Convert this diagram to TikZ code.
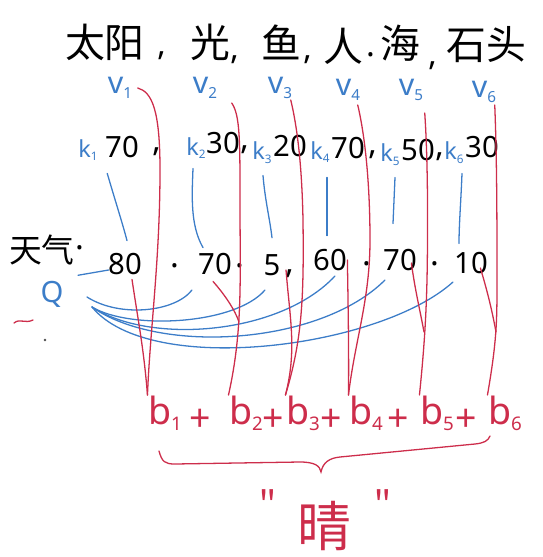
\documentclass[tikz,border=0pt]{standalone}
\usepackage{fontspec}
\setmainfont{Noto Sans}
\newfontfamily\cjk{Noto Sans CJK SC}
\usetikzlibrary{calc}
\definecolor{penblue}{RGB}{60,125,200}
\definecolor{penred}{RGB}{205,45,75}
\newcommand{\lowidx}[1]{\raisebox{-0.3ex}{\scalebox{0.5}{#1}}}

\begin{document}
\begin{tikzpicture}[x=0.3mm, y=-0.3mm, line width=1.1pt, line cap=round,
  word/.style={inner sep=0pt, font=\cjk\fontsize{34}{34}\selectfont},
  sepmark/.style={inner sep=0pt, font=\fontsize{28}{28}\selectfont},
  vlab/.style={inner sep=0pt, text=penblue, font=\fontsize{26}{26}\selectfont},
  klab/.style={inner sep=0pt, text=penblue, font=\fontsize{20}{20}\selectfont},
  num/.style={inner sep=0pt, font=\fontsize{25}{25}\selectfont},
  blab/.style={inner sep=0pt, text=penred, font=\fontsize{32}{32}\selectfont},
  redline/.style={penred},
  blueline/.style={penblue}]
  \useasboundingbox (0,0) rectangle (543,557);
  % 词: 太阳, 光, 鱼, 人, 海, 石头
  \node[word] (t1) at (105,42) {太阳};
  \node[word] (t2) at (210,42) {光};
  \node[word] (t3) at (281,42) {鱼};
  \node[word] (t4) at (343,46) {人};
  \node[word] (t5) at (400,43) {海};
  \node[word] (t6) at (486,45) {石头};
  \node[sepmark] at (162,56) {,};
  \node[sepmark] at (235,60) {,};
  \node[sepmark] at (308,60) {,};
  \node[sepmark] at (371,55) {.};
  \node[sepmark] at (433,66) {,};
  % 词向量 v_i
  \node[vlab] (v1) at (120,88) {v\lowidx{1}};
  \node[vlab] (v2) at (205,88) {v\lowidx{2}};
  \node[vlab] (v3) at (280,88) {v\lowidx{3}};
  \node[vlab] (v4) at (348,90) {v\lowidx{4}};
  \node[vlab] (v5) at (411,90) {v\lowidx{5}};
  \node[vlab] (v6) at (484,92) {v\lowidx{6}};
  % 键 k_i 与分值
  \node[klab] (k1) at (88,150) {k\lowidx{1}};
  \node[klab] (k2) at (196,148) {k\lowidx{2}};
  \node[klab] (k3) at (262,153) {k\lowidx{3}};
  \node[klab] (k4) at (320,152) {k\lowidx{4}};
  \node[klab] (k5) at (390,155) {k\lowidx{5}};
  \node[klab] (k6) at (454,153) {k\lowidx{6}};
  \node[num] (kv1) at (122,147) {70};
  \node[num] (kv2) at (223,143) {30};
  \node[num] (kv3) at (290,146) {20};
  \node[num] (kv4) at (348,148) {70};
  \node[num] (kv5) at (418,150) {50};
  \node[num] (kv6) at (482,147) {30};
  \node[sepmark] at (157,152) {,};
  \node[sepmark] at (245,150) {,};
  \node[sepmark] at (373,155) {,};
  \node[sepmark] at (440,157) {,};
  % 天气 与 Q
  \node[inner sep=0pt, font=\cjk\fontsize{28}{28}\selectfont] (wx) at (42,250) {天气};
  \node[sepmark] at (80,248) {.};
  \node[num, text=penblue] (Q) at (52,294) {Q};
  \node[num] (w1) at (125,264) {80};
  \node[num] (w2) at (215,264) {70};
  \node[num] (w3) at (272,265) {5};
  \node[num] (w4) at (330,260) {60};
  \node[num] (w5) at (400,260) {70};
  \node[num] (w6) at (471,263) {10};
  \node[sepmark] at (175,266) {.};
  \node[sepmark] at (240,266) {.};
  \node[sepmark] at (290,274) {,};
  \node[sepmark] at (367,264) {.};
  \node[sepmark] at (435,264) {.};
  \draw[penred] (14,323) .. controls (20,318) and (25,324) .. (33,320);
  \fill[black!70] (45,340) circle (1.3);
  % k_i -> 分值
  \draw[blueline] ($(k1.south east)+(9,12)$) .. controls (115,200) and (123,225) .. ($(w1.north)+(2,-12)$);
  \draw[blueline] ($(k2.south)+(-3,9)$) .. controls (192,195) and (190,225) .. ($(w2.north)+(-12,-5)$);
  \draw[blueline] ($(k3.south)+(1,11)$) .. controls (265,200) and (270,220) .. ($(w3.north)+(0,-16)$);
  \draw[blueline] ($(k4.south)+(7,14)$) -- ($(w4.north)+(-3,-13)$);
  \draw[blueline] ($(k5.south)+(5,11)$) -- ($(w5.north)+(-7,-25)$);
  \draw[blueline] ($(k6.south)+(8,9)$) .. controls (461,200) and (459,225) .. ($(w6.north)+(-12,-8)$);
  % Q -> 分值
  \coordinate (qhub) at (92,307);
  \draw[blueline] ($(Q.north east)+(14,-5)$) -- ($(w1.west)+(1,6)$);
  \draw[blueline] (87,297) .. controls (120,318) and (175,312) .. (192,290);
  \draw[blueline] (qhub) .. controls (130,330) and (235,325) .. (265,290);
  \draw[blueline] (qhub) .. controls (150,345) and (280,335) .. (335,276);
  \draw[blueline] (qhub) .. controls (160,355) and (320,345) .. (385,280);
  \draw[blueline] (qhub) .. controls (150,378) and (380,348) .. (453,282);
  % 求和 b_i
  \node[blab] (b1) at (165,413) {b\lowidx{1}};
  \node[blab] (b2) at (246,413) {b\lowidx{2}};
  \node[blab] (b3) at (303,413) {b\lowidx{3}};
  \node[blab] (b4) at (366,413) {b\lowidx{4}};
  \node[blab] (b5) at (437,413) {b\lowidx{5}};
  \node[blab] (b6) at (505,413) {b\lowidx{6}};
  \node[blab] at (200,420) {+};
  \node[blab] at (273,420) {+};
  \node[blab] at (331,420) {+};
  \node[blab] at (398,420) {+};
  \node[blab] at (466,420) {+};
  % v_i -> b_i, 分值 -> b_i
  \draw[redline] ($(v1.east)+(5,0)$) .. controls (152,92) and (160,110) .. (160,170) .. controls (160,260) and (150,330) .. (b1.north west);
  \draw[redline] ($(w1.south)+(7,4)$) .. controls (138,320) and (144,350) .. (b1.north west);
  \draw[redline] ($(v2.east)+(14,15)$) .. controls (240,115) and (240,140) .. (240,200) .. controls (240,280) and (243,330) .. (b2.north west);
  \draw[redline] ($(w2.south)+(-2,6)$) .. controls (225,295) and (235,310) .. (239,322);
  \draw[redline] ($(v3.east)+(-2,12)$) .. controls (298,130) and (302,170) .. (303,220) .. controls (304,300) and (302,340) .. (b3.north west);
  \draw[redline] ($(w3.east)+(5,5)$) .. controls (290,320) and (297,350) .. (b3.north west);
  \draw[redline] ($(v4.east)+(-3,15)$) .. controls (366,140) and (370,190) .. (370,240) .. controls (370,300) and (355,340) .. (b4.north west);
  \draw[redline] (w4.east) .. controls (348,300) and (349,350) .. (b4.north west);
  \draw[redline] ($(v5.east)+(1,23)$) .. controls (428,160) and (428,230) .. (427,280) .. controls (426,320) and (424,350) .. (b5.north west);
  \draw[redline] ($(w5.east)+(-6,3)$) .. controls (415,290) and (420,310) .. (424,332);
  \draw[redline] ($(v6.east)+(-2,13)$) .. controls (497,160) and (497,230) .. (497,280) .. controls (497,320) and (497,340) .. (b6.north west);
  \draw[redline] ($(w6.east)+(-8,5)$) .. controls (487,290) and (492,310) .. (496,332);
  % 括号与结果
  \draw[redline] (159,451) .. controls (162,462) and (165,464) .. (175,464) -- (300,462)
    .. controls (315,462) and (320,466) .. (321,472) .. controls (323,462) and (330,458) .. (340,457)
    -- (475,444) .. controls (484,443) and (488,441) .. (490,436);
  \node[inner sep=0pt, text=penred, font=\cjk\fontsize{46}{46}\selectfont] (res) at (324,526) {晴};
  \node[inner sep=0pt, text=penred, font=\cjk\fontsize{28}{28}\selectfont] at (268,504) {＂};
  \node[inner sep=0pt, text=penred, font=\cjk\fontsize{28}{28}\selectfont] at (383,504) {＂};
\end{tikzpicture}
\end{document}
